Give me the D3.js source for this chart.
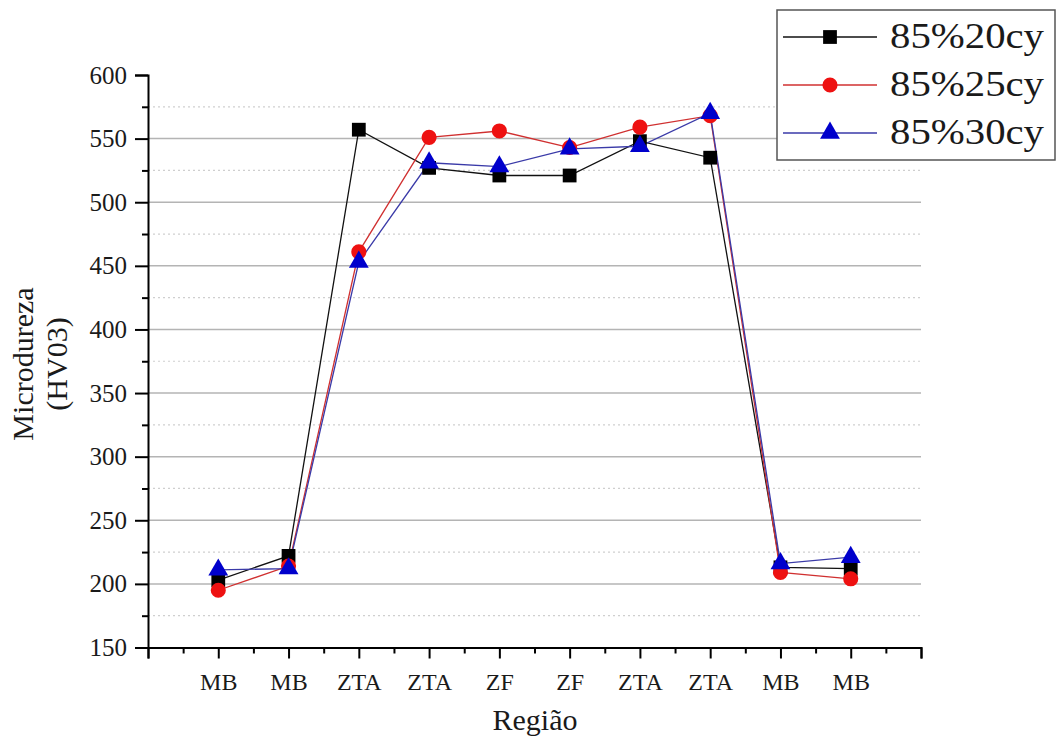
<!DOCTYPE html>
<html><head><meta charset="utf-8">
<script src="https://cdn.jsdelivr.net/npm/d3@7"></script>
<style>body{margin:0;background:#fff}svg{display:block}
svg text{font-family:'Liberation Serif','Times New Roman',Times,serif !important}</style>
</head><body>
<svg id="c" width="1059" height="740"></svg>
<script>
const categories = ["MB","MB","ZTA","ZTA","ZF","ZF","ZTA","ZTA","MB","MB"];
const s20 = [203, 222, 557, 527, 521, 521, 548, 535, 213, 212];
const s25 = [195, 214, 461, 551, 556, 543, 559, 568, 209, 204];
const s30 = [211, 212, 453, 531, 528, 542, 544, 570, 216, 221];
const seriesNames = ["85%20cy","85%25cy","85%30cy"];
const yTicks = [150,200,250,300,350,400,450,500,550,600];

const FONT = "'Liberation Serif','Times New Roman',Times,serif";
const TXT = "#1a1a1a";
const svg = d3.select("#c");
const L=148, R=921, T=75, B=647.5;
const x = d3.scaleLinear().domain([0, categories.length+1]).range([L,R]);
const y = d3.scaleLinear().domain([150,600]).range([B,T]);

// grid
const g = svg.append("g");
[200,250,300,350,400,450,500,550].forEach(v=>{
  g.append("line").attr("x1",L).attr("x2",R).attr("y1",y(v)).attr("y2",y(v))
   .attr("stroke","#b4b4b4").attr("stroke-width",1.5);
});
[175,225,275,325,375,425,475,525,575].forEach(v=>{
  g.append("line").attr("x1",L).attr("x2",R).attr("y1",y(v)).attr("y2",y(v))
   .attr("stroke","#cfcfcf").attr("stroke-width",1.2).attr("stroke-dasharray","2,3");
});

// y axis
const ya = svg.append("g").attr("transform",`translate(${L},0)`)
  .call(d3.axisLeft(y).tickValues(yTicks).tickSize(13).tickPadding(8));
ya.select(".domain").attr("stroke","#000").attr("stroke-width",2);
ya.selectAll(".tick line").attr("stroke-width",2);
ya.selectAll("text").attr("font-size",25).attr("fill",TXT).style("font-family",FONT);
const yMinor = d3.range(175,600,50);
svg.append("g").attr("transform",`translate(${L},0)`)
  .call(d3.axisLeft(y).tickValues(yMinor).tickSize(6).tickFormat(""))
  .call(s=>{s.select(".domain").remove();s.selectAll("line").attr("stroke-width",2);});

// x axis
const xa = svg.append("g").attr("transform",`translate(0,${B})`)
  .call(d3.axisBottom(x).tickValues(d3.range(0,categories.length+2)).tickSize(11).tickPadding(14)
    .tickFormat(i=> (i>=1 && i<=categories.length)? categories[i-1] : ""));
xa.select(".domain").attr("stroke","#000").attr("stroke-width",2);
xa.selectAll(".tick line").attr("stroke-width",2);
xa.selectAll("text").attr("font-size",24).attr("fill",TXT).style("font-family",FONT);
svg.append("g").attr("transform",`translate(0,${B})`)
  .call(d3.axisBottom(x).tickValues(d3.range(0.5,categories.length+1,1)).tickSize(6).tickFormat(""))
  .call(s=>{s.select(".domain").remove();s.selectAll("line").attr("stroke-width",2);});

// axis titles
svg.append("text").attr("x",535).attr("y",730).attr("text-anchor","middle")
  .attr("font-size",30).attr("fill",TXT).style("font-family",FONT).text("Região");
svg.append("text").attr("transform","translate(33,364) rotate(-90)").attr("text-anchor","middle")
  .attr("font-size",30).attr("fill",TXT).style("font-family",FONT).text("Microdureza");
svg.append("text").attr("transform","translate(67,364) rotate(-90)").attr("text-anchor","middle")
  .attr("font-size",30).attr("fill",TXT).style("font-family",FONT).text("(HV03)");

// series
const series = [
  {name:seriesNames[0], vals:s20, color:"#000", line:"#111", shape:d3.symbolSquare, size:190},
  {name:seriesNames[1], vals:s25, color:"#ee1111", line:"#d03030", shape:d3.symbolCircle, size:180},
  {name:seriesNames[2], vals:s30, color:"#0000cc", line:"#3a3aa8", shape:d3.symbolTriangle, size:170}
];
const lineGen = d3.line().x((d,i)=>x(i+1)).y(d=>y(d));
series.forEach(s=>{
  svg.append("path").datum(s.vals).attr("d",lineGen).attr("fill","none")
    .attr("stroke",s.line).attr("stroke-width",1.3);
});
series.forEach(s=>{
  svg.append("g").selectAll("path").data(s.vals).join("path")
    .attr("transform",(d,i)=>`translate(${x(i+1)},${y(d)})`)
    .attr("d",d3.symbol().type(s.shape).size(s.size)).attr("fill",s.color);
});

// legend
const lg = svg.append("g");
lg.append("rect").attr("x",777).attr("y",10).attr("width",278).attr("height",150)
  .attr("fill","#fff").attr("stroke","#555").attr("stroke-width",1.5);
series.forEach((s,i)=>{
  const cy = 37 + i*48;
  lg.append("line").attr("x1",783).attr("x2",877).attr("y1",cy).attr("y2",cy)
    .attr("stroke",s.line).attr("stroke-width",1.3);
  lg.append("path").attr("transform",`translate(830,${cy})`)
    .attr("d",d3.symbol().type(s.shape).size(s.size)).attr("fill",s.color);
  lg.append("text").attr("x",890).attr("y",cy+11).attr("font-size",36).attr("fill",TXT)
    .attr("textLength",154).attr("lengthAdjust","spacingAndGlyphs")
    .style("font-family",FONT).text(s.name);
});
</script>
</body></html>
